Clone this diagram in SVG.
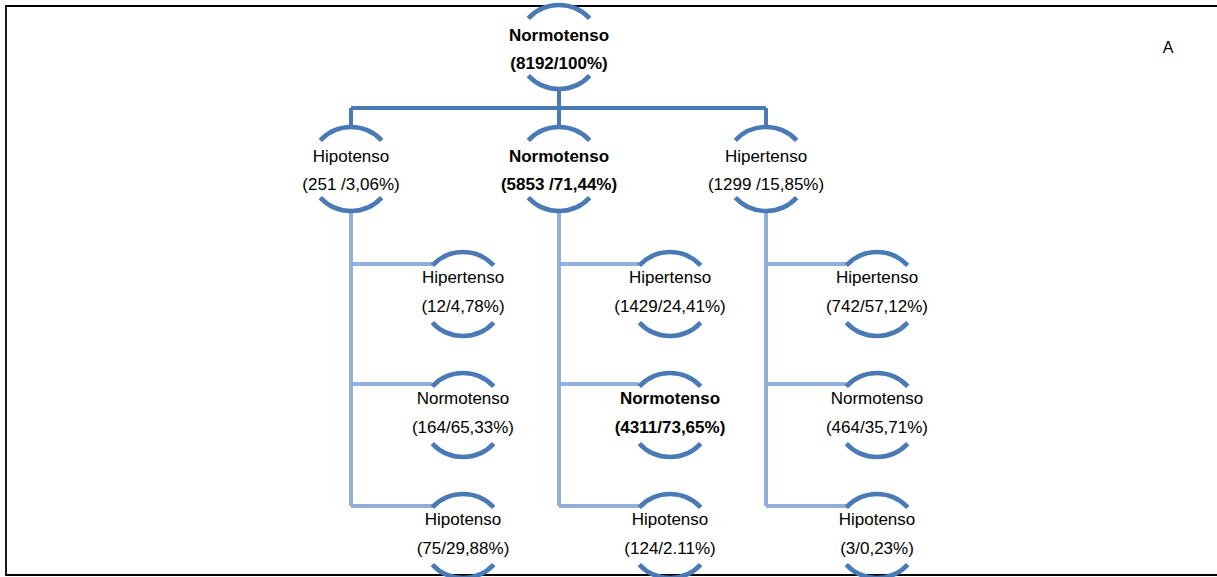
<svg xmlns="http://www.w3.org/2000/svg" xmlns:xlink="http://www.w3.org/1999/xlink" width="1217" height="577" viewBox="0 0 1217 577">
  <style>
    .ring { fill: none; stroke: #4A7AB6; stroke-width: 4.5; }
    .trunk { fill: none; stroke: #4A7AB6; stroke-width: 4; }
    .branch { fill: none; stroke: #92AEDA; stroke-width: 4; }
    text { font-family: "Liberation Sans", Arial, sans-serif; font-size: 17px; fill: #000; text-anchor: middle; }
    .b { font-weight: bold; }
  </style>
  <defs>
    <!-- open circle: an upper and a lower arc around the label -->
    <path id="ring" d="M-30.7,-28.6 A42,42 0 0 1 30.7,-28.6 M-30.7,28.6 A42,42 0 0 0 30.7,28.6"/>
  </defs>

  <rect x="0" y="0" width="1217" height="577" fill="#fff"/>
  <!-- frame -->
  <path d="M1220,6 H6 V575 H1220" fill="none" stroke="#000" stroke-width="1.8"/>

  <g id="connectors">
    <path class="trunk" d="M559,89 V108 M351,108 H766 M351,108 V127 M559,108 V127 M766,108 V127"/>
    <path class="branch" d="M351,211 V506 M351,264 H432 M351,384 H432 M351,506 H432"/>
    <path class="branch" d="M559,211 V506 M559,264 H639 M559,384 H639 M559,506 H639"/>
    <path class="branch" d="M766,211 V506 M766,264 H846 M766,384 H846 M766,506 H846"/>
  </g>

  <g id="root">
    <use xlink:href="#ring" class="ring" transform="translate(559,47)"/>
    <text class="b" x="559" y="41">Normotenso</text>
    <text class="b" x="559" y="69">(8192/100%)</text>
  </g>

  <g id="l2-hipotenso">
    <use xlink:href="#ring" class="ring" transform="translate(351,169)"/>
    <text x="351" y="162">Hipotenso</text>
    <text x="351" y="190">(251 /3,06%)</text>
  </g>
  <g id="l2-normotenso">
    <use xlink:href="#ring" class="ring" transform="translate(559,169)"/>
    <text class="b" x="559" y="162">Normotenso</text>
    <text class="b" x="559" y="190">(5853 /71,44%)</text>
  </g>
  <g id="l2-hipertenso">
    <use xlink:href="#ring" class="ring" transform="translate(766,169)"/>
    <text x="766" y="162">Hipertenso</text>
    <text x="766" y="190">(1299 /15,85%)</text>
  </g>

  <g id="c1-hipertenso">
    <use xlink:href="#ring" class="ring" transform="translate(463,294)"/>
    <text x="463" y="283">Hipertenso</text>
    <text x="463" y="312">(12/4,78%)</text>
  </g>
  <g id="c1-normotenso">
    <use xlink:href="#ring" class="ring" transform="translate(463,415)"/>
    <text x="463" y="404">Normotenso</text>
    <text x="463" y="433">(164/65,33%)</text>
  </g>
  <g id="c1-hipotenso">
    <use xlink:href="#ring" class="ring" transform="translate(463,536)"/>
    <text x="463" y="525">Hipotenso</text>
    <text x="463" y="554">(75/29,88%)</text>
  </g>

  <g id="c2-hipertenso">
    <use xlink:href="#ring" class="ring" transform="translate(670,294)"/>
    <text x="670" y="283">Hipertenso</text>
    <text x="670" y="312">(1429/24,41%)</text>
  </g>
  <g id="c2-normotenso">
    <use xlink:href="#ring" class="ring" transform="translate(670,415)"/>
    <text class="b" x="670" y="404">Normotenso</text>
    <text class="b" x="670" y="433">(4311/73,65%)</text>
  </g>
  <g id="c2-hipotenso">
    <use xlink:href="#ring" class="ring" transform="translate(670,536)"/>
    <text x="670" y="525">Hipotenso</text>
    <text x="670" y="554">(124/2.11%)</text>
  </g>

  <g id="c3-hipertenso">
    <use xlink:href="#ring" class="ring" transform="translate(877,294)"/>
    <text x="877" y="283">Hipertenso</text>
    <text x="877" y="312">(742/57,12%)</text>
  </g>
  <g id="c3-normotenso">
    <use xlink:href="#ring" class="ring" transform="translate(877,415)"/>
    <text x="877" y="404">Normotenso</text>
    <text x="877" y="433">(464/35,71%)</text>
  </g>
  <g id="c3-hipotenso">
    <use xlink:href="#ring" class="ring" transform="translate(877,536)"/>
    <text x="877" y="525">Hipotenso</text>
    <text x="877" y="554">(3/0,23%)</text>
  </g>

  <text id="panel-label" x="1168" y="53" style="font-size:16px">A</text>
</svg>
